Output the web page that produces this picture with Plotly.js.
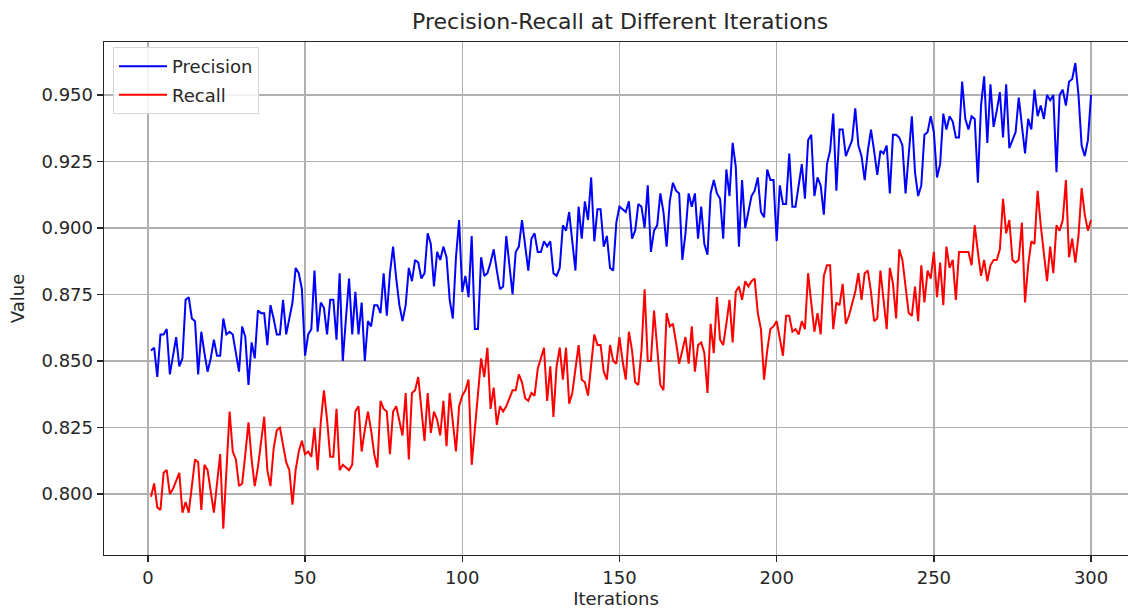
<!DOCTYPE html>
<html>
<head>
<meta charset="utf-8">
<script src="https://cdn.plot.ly/plotly-3.0.1.min.js"></script>
<style>html,body{margin:0;padding:0;background:#fff;}#chart{width:1128px;height:609px;}</style>
</head>
<body>
<div id="chart"></div>
<script>
// Iterations 1..300
const iterations = Array.from({length: 300}, (_, k) => k + 1);

const precision = [
0.854,0.855,0.844,0.860,0.860,0.862,0.845,0.852,0.859,0.848,
0.851,0.873,0.874,0.866,0.865,0.845,0.861,0.853,0.846,0.851,
0.858,0.852,0.852,0.866,0.860,0.861,0.860,0.853,0.846,0.863,
0.859,0.841,0.857,0.851,0.869,0.868,0.868,0.856,0.871,0.866,
0.860,0.860,0.873,0.860,0.866,0.872,0.885,0.883,0.877,0.852,
0.860,0.862,0.884,0.861,0.872,0.870,0.860,0.873,0.873,0.858,
0.883,0.850,0.866,0.881,0.860,0.876,0.860,0.872,0.850,0.865,
0.863,0.871,0.871,0.868,0.883,0.867,0.883,0.893,0.881,0.871,
0.865,0.871,0.885,0.880,0.888,0.887,0.881,0.883,0.898,0.894,
0.878,0.891,0.888,0.893,0.889,0.873,0.866,0.889,0.903,0.876,
0.882,0.874,0.897,0.862,0.862,0.889,0.882,0.883,0.887,0.892,
0.884,0.877,0.878,0.897,0.886,0.875,0.891,0.893,0.903,0.894,
0.884,0.896,0.898,0.891,0.891,0.895,0.893,0.895,0.883,0.882,
0.885,0.901,0.899,0.906,0.896,0.884,0.908,0.896,0.910,0.903,
0.919,0.895,0.907,0.907,0.893,0.897,0.885,0.884,0.902,0.908,
0.907,0.906,0.910,0.896,0.899,0.909,0.908,0.900,0.916,0.891,
0.899,0.901,0.913,0.906,0.893,0.910,0.917,0.914,0.913,0.888,
0.898,0.913,0.908,0.913,0.896,0.908,0.894,0.890,0.913,0.918,
0.913,0.911,0.896,0.922,0.912,0.932,0.923,0.893,0.918,0.900,
0.906,0.912,0.914,0.919,0.906,0.904,0.922,0.918,0.918,0.895,
0.916,0.909,0.909,0.928,0.908,0.908,0.916,0.924,0.911,0.933,
0.935,0.912,0.919,0.916,0.905,0.924,0.929,0.943,0.914,0.937,
0.937,0.927,0.930,0.933,0.945,0.931,0.927,0.918,0.929,0.937,
0.929,0.920,0.929,0.928,0.931,0.913,0.935,0.935,0.934,0.931,
0.913,0.928,0.942,0.921,0.912,0.916,0.935,0.936,0.942,0.936,
0.919,0.924,0.943,0.937,0.942,0.940,0.934,0.934,0.955,0.941,
0.937,0.942,0.941,0.917,0.946,0.957,0.932,0.954,0.938,0.944,
0.951,0.934,0.954,0.930,0.933,0.936,0.949,0.939,0.928,0.941,
0.937,0.952,0.942,0.946,0.941,0.950,0.948,0.950,0.921,0.950,
0.952,0.946,0.955,0.956,0.962,0.950,0.931,0.927,0.933,0.950
];

const recall = [
0.799,0.804,0.795,0.794,0.808,0.809,0.800,0.802,0.805,0.808,
0.793,0.797,0.793,0.803,0.813,0.812,0.794,0.811,0.809,0.801,
0.793,0.804,0.815,0.787,0.809,0.831,0.816,0.813,0.803,0.804,
0.815,0.827,0.813,0.803,0.810,0.820,0.829,0.809,0.803,0.817,
0.824,0.825,0.819,0.812,0.809,0.796,0.809,0.816,0.820,0.815,
0.816,0.814,0.825,0.809,0.827,0.839,0.828,0.814,0.814,0.832,
0.809,0.811,0.810,0.809,0.811,0.831,0.833,0.816,0.824,0.831,
0.824,0.815,0.810,0.835,0.832,0.831,0.815,0.831,0.833,0.828,
0.822,0.838,0.813,0.838,0.839,0.844,0.833,0.820,0.838,0.823,
0.831,0.828,0.822,0.835,0.818,0.838,0.827,0.816,0.833,0.837,
0.839,0.843,0.811,0.824,0.836,0.851,0.844,0.855,0.832,0.840,
0.826,0.833,0.831,0.833,0.836,0.839,0.839,0.845,0.842,0.836,
0.835,0.838,0.837,0.847,0.851,0.855,0.835,0.848,0.829,0.848,
0.855,0.843,0.855,0.834,0.838,0.847,0.856,0.843,0.842,0.837,
0.849,0.860,0.856,0.856,0.846,0.843,0.856,0.850,0.849,0.859,
0.850,0.843,0.861,0.854,0.842,0.841,0.854,0.877,0.850,0.850,
0.869,0.854,0.841,0.839,0.868,0.863,0.864,0.857,0.849,0.854,
0.859,0.849,0.863,0.846,0.856,0.857,0.853,0.838,0.864,0.853,
0.874,0.858,0.856,0.864,0.873,0.857,0.876,0.878,0.873,0.880,
0.878,0.880,0.881,0.868,0.862,0.843,0.854,0.862,0.863,0.865,
0.858,0.852,0.867,0.867,0.861,0.862,0.860,0.865,0.862,0.883,
0.872,0.861,0.868,0.860,0.882,0.886,0.886,0.862,0.872,0.871,
0.879,0.864,0.867,0.871,0.876,0.883,0.873,0.883,0.884,0.876,
0.865,0.866,0.884,0.873,0.862,0.885,0.879,0.866,0.892,0.888,
0.878,0.868,0.867,0.878,0.865,0.886,0.872,0.884,0.881,0.891,
0.874,0.887,0.871,0.893,0.885,0.888,0.873,0.891,0.891,0.891,
0.891,0.886,0.901,0.891,0.882,0.888,0.880,0.886,0.888,0.888,
0.892,0.911,0.898,0.903,0.888,0.887,0.888,0.902,0.872,0.886,
0.895,0.894,0.914,0.901,0.891,0.880,0.893,0.883,0.901,0.899,
0.903,0.918,0.889,0.896,0.887,0.897,0.915,0.905,0.899,0.903
];

const xTicks = [0, 50, 100, 150, 200, 250, 300];
const yTicks = [0.800, 0.825, 0.850, 0.875, 0.900, 0.925, 0.950];

const FONT = 'DejaVu Sans, sans-serif';
const INK = '#262626';
const traces = [
  {x: iterations, y: precision, type: 'scatter', mode: 'lines', name: 'Precision',
   legendgroup: 'p', line: {color: '#0000ff', width: 2}},
  {x: iterations, y: recall, type: 'scatter', mode: 'lines', name: 'Recall',
   legendgroup: 'r', line: {color: '#ff0000', width: 2}}
];

const layout = {
  width: 1128, height: 609,
  margin: {l: 104, r: 0, t: 42, b: 54, pad: 0},
  paper_bgcolor: '#ffffff', plot_bgcolor: '#ffffff',
  font: {family: FONT, size: 18, color: INK},
  title: {text: 'Precision-Recall at Different Iterations', font: {family: FONT, size: 22, color: INK},
          x: 0.504, xref: 'paper', xanchor: 'center', y: 1 - 21/609, yref: 'container', yanchor: 'middle'},
  xaxis: {
    range: [-13.95, 311.75], tickvals: xTicks, ticktext: xTicks.map(String),
    showgrid: true, gridcolor: '#b0b0b0', gridwidth: 1.4,
    showline: true, linecolor: INK, linewidth: 1.4, mirror: true,
    ticks: 'outside', ticklen: 6, tickwidth: 1.4, tickcolor: INK,
    tickfont: {family: FONT, size: 18, color: INK},
    zeroline: false,
    title: {text: 'Iterations', font: {family: FONT, size: 18, color: INK}, standoff: 7}
  },
  yaxis: {
    range: [0.7771, 0.9699], tickvals: yTicks, ticktext: yTicks.map(v => v.toFixed(3)),
    showgrid: true, gridcolor: '#b0b0b0', gridwidth: 1.4,
    showline: true, linecolor: INK, linewidth: 1.4, mirror: false,
    ticks: 'outside', ticklen: 6, tickwidth: 1.4, tickcolor: INK,
    tickfont: {family: FONT, size: 18, color: INK},
    zeroline: false,
    title: {text: 'Value', font: {family: FONT, size: 18, color: INK}, standoff: 12}
  },
  legend: {x: 0.0088, y: 0.99, xanchor: 'left', yanchor: 'top', itemwidth: 48,
           bgcolor: 'rgba(255,255,255,0.85)', bordercolor: '#d6d6d6', borderwidth: 1,
           font: {family: FONT, size: 18, color: INK}, tracegroupgap: 2},
  showlegend: true
};

Plotly.newPlot('chart', traces, layout, {staticPlot: true, displayModeBar: false});
</script>
</body>
</html>
